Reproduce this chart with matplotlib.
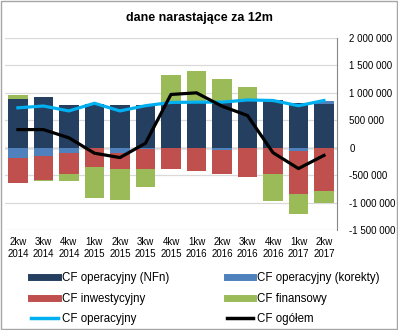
import numpy as np
import matplotlib
matplotlib.use("Agg")
import matplotlib.pyplot as plt
from matplotlib.lines import Line2D
from matplotlib.patches import Rectangle

plt.rcParams['font.family'] = ['Liberation Sans', 'DejaVu Sans']

# DATA
kwartaly = ["2kw\n2014", "3kw\n2014", "4kw\n2014", "1kw\n2015", "2kw\n2015", "3kw\n2015",
            "4kw\n2015", "1kw\n2016", "2kw\n2016", "3kw\n2016", "4kw\n2016", "1kw\n2017", "2kw\n2017"]
cf_nfn = [896000, 915000, 770000, 805000, 770000, 780000, 840000, 840000, 855000, 890000, 870000, 820000, 790000]
cf_korekty = [-195000, -157000, -97000, 0, -100000, -20000, 0, 0, -40000, 0, 0, -60000, 70000]
cf_inwest = [-455000, -438000, -390000, -350000, -290000, -360000, -390000, -420000, -440000, -530000, -480000, -785000, -792000]
cf_finans = [70000, -20000, -127000, -570000, -565000, -330000, 490000, 565000, 400000, 225000, -490000, -360000, -210000]
cf_oper = [727000, 760000, 670000, 810000, 670000, 765000, 825000, 830000, 830000, 870000, 860000, 765000, 860000]
cf_ogolem = [330000, 330000, 180000, -100000, -180000, 80000, 970000, 1000000, 757000, 587000, -90000, -380000, -140000]

# KOLORY
c_nfn = "#243f60"
c_kor = "#4f81bd"
c_inw = "#c0504d"
c_fin = "#9bbb59"
c_oper = "#00b0f0"

fig = plt.figure(figsize=(3.98, 3.30), dpi=100)
ax = fig.add_axes([0.013, 0.303, 0.833, 0.582])

x = np.arange(len(kwartaly))
w = 0.77
pos = np.zeros(len(x))
neg = np.zeros(len(x))
for seria, kolor in [(cf_nfn, c_nfn), (cf_korekty, c_kor), (cf_inwest, c_inw), (cf_finans, c_fin)]:
    v = np.array(seria, dtype=float)
    dol = np.where(v >= 0, pos, neg)
    ax.bar(x, v, w, bottom=dol, color=kolor, zorder=2)
    pos = pos + np.where(v > 0, v, 0)
    neg = neg + np.where(v < 0, v, 0)

ax.plot(x, cf_oper, color=c_oper, lw=2.3, zorder=3)
ax.plot(x, cf_ogolem, color="black", lw=2.3, zorder=4)

# OSIE
ax.set_xlim(-0.5, len(x) - 0.5)
ax.set_ylim(-1500000, 2000000)
ticks = np.arange(-1500000, 2000001, 500000)
ax.set_yticks(ticks)
ax.set_yticklabels([f"{t:,}".replace(",", " ") for t in ticks], fontsize=7)
for lab, t in zip(ax.get_yticklabels(), ticks):
    lab.set_color("red" if t < 0 else "black")
ax.yaxis.tick_right()
ax.tick_params(axis="y", length=0, pad=9)
ax.set_xticks(x)
ax.set_xticklabels(kwartaly, fontsize=7, linespacing=1.3)
ax.tick_params(axis="x", length=0, pad=5)
ax.grid(axis="y", color="#d9d9d9", lw=0.9, zorder=0)
ax.axhline(0, color="#868686", lw=1, zorder=1)
for s in ["top", "left", "bottom"]:
    ax.spines[s].set_visible(False)
ax.spines["right"].set_color("#868686")

fig.text(0.5, 0.945, "dane narastające za 12m", ha="center", va="center",
         fontsize=9, fontweight="bold")

# LEGENDA (dwie kolumny)
kol1 = [(Line2D([], [], color=c_nfn, lw=5), "CF operacyjny (NFn)"),
        (Line2D([], [], color=c_inw, lw=5), "CF inwestycyjny"),
        (Line2D([], [], color=c_oper, lw=2.5), "CF operacyjny")]
kol2 = [(Line2D([], [], color=c_kor, lw=5), "CF operacyjny (korekty)"),
        (Line2D([], [], color=c_fin, lw=5), "CF finansowy"),
        (Line2D([], [], color="black", lw=2.5), "CF ogółem")]
for kol, x0 in [(kol1, 0.078), (kol2, 0.57)]:
    fig.legend([k[0] for k in kol], [k[1] for k in kol], loc="upper left",
               bbox_to_anchor=(x0, 0.175), frameon=False, fontsize=8.3,
               handlelength=2.3, handletextpad=0.35, labelspacing=0.72,
               borderaxespad=0, borderpad=0)

fig.patches.append(Rectangle((0.002, 0.002), 0.996, 0.996, transform=fig.transFigure,
                             fill=False, edgecolor="#a6a6a6", lw=1))

fig.savefig("out.png", dpi=100)
